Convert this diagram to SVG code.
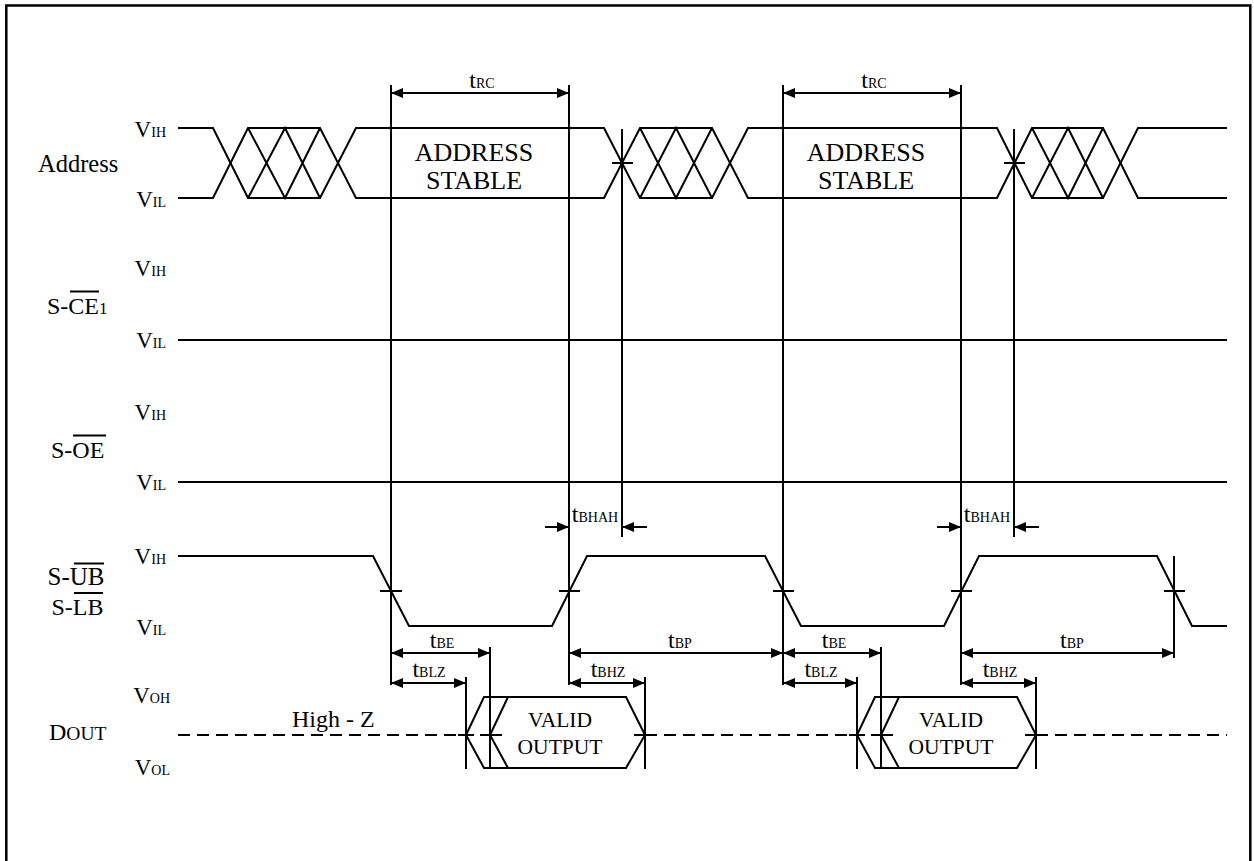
<svg xmlns="http://www.w3.org/2000/svg" width="1254" height="861" viewBox="0 0 1254 861" font-family="'Liberation Serif', Tinos, 'Times New Roman', 'DejaVu Serif', serif">
<style>
.sig{fill:none;stroke:#000;stroke-width:2;stroke-linejoin:miter}
.dash{fill:none;stroke:#000;stroke-width:2;stroke-dasharray:12 7}
.dim{fill:none;stroke:#000;stroke-width:2}
.arr{fill:none;stroke:#000;stroke-width:2;marker-start:url(#ah);marker-end:url(#ah)}
.arr1{fill:none;stroke:#000;stroke-width:2;marker-end:url(#ah)}
text{font-family:'Liberation Serif', Tinos, 'Times New Roman', 'DejaVu Serif', serif;fill:#000}
.big{font-size:24px}
.sub{font-size:14px}
.mid{text-anchor:middle}
.end{text-anchor:end}
.box{font-size:26px}
.vo{font-size:21.5px}
</style>
<defs>
<marker id="ah" markerUnits="userSpaceOnUse" markerWidth="12" markerHeight="10" viewBox="0 0 12 10" refX="12" refY="5" orient="auto-start-reverse">
<path d="M0,0 L12,5 L0,10 Z" fill="#000"/>
</marker>
</defs>
<rect x="6.3" y="5.5" width="1244" height="900" fill="#fff" stroke="#000" stroke-width="2.5"/>

<g id="labels">
<text x="38" y="172" style="font-size:24.5px">Address</text>
<text x="166" y="136.7" class="end"><tspan style="font-size:23px">V</tspan><tspan class="sub">IH</tspan></text>
<text x="166" y="206.7" class="end"><tspan style="font-size:23px">V</tspan><tspan class="sub">IL</tspan></text>
<text x="47" y="314" class="big">S-CE<tspan style="font-size:17px">1</tspan></text>
<line x1="70" y1="291.5" x2="99" y2="291.5" class="dim"/>
<text x="166" y="276" class="end"><tspan style="font-size:23px">V</tspan><tspan class="sub">IH</tspan></text>
<text x="166" y="348" class="end"><tspan style="font-size:23px">V</tspan><tspan class="sub">IL</tspan></text>
<text x="51" y="458" class="big">S-OE</text>
<line x1="73" y1="435.5" x2="106" y2="435.5" class="dim"/>
<text x="166" y="420" class="end"><tspan style="font-size:23px">V</tspan><tspan class="sub">IH</tspan></text>
<text x="166" y="490" class="end"><tspan style="font-size:23px">V</tspan><tspan class="sub">IL</tspan></text>
<text x="47.5" y="585" style="font-size:25px">S-UB</text>
<line x1="74" y1="563.5" x2="104" y2="563.5" class="dim"/>
<text x="51.5" y="615" class="big">S-LB</text>
<line x1="74" y1="593" x2="103" y2="593" class="dim"/>
<text x="166" y="563.5" class="end"><tspan style="font-size:23px">V</tspan><tspan class="sub">IH</tspan></text>
<text x="166" y="635" class="end"><tspan style="font-size:23px">V</tspan><tspan class="sub">IL</tspan></text>
<text x="49" y="740"><tspan style="font-size:24px">D</tspan><tspan style="font-size:19.5px">OUT</tspan></text>
<text x="170" y="703" class="end"><tspan style="font-size:23px">V</tspan><tspan class="sub">OH</tspan></text>
<text x="170" y="775" class="end"><tspan style="font-size:23px">V</tspan><tspan class="sub">OL</tspan></text>
<text x="292" y="727" class="big">High - Z</text>
</g>

<g id="address">
<path class="sig" d="M178,128 H213 L248,198 H320 L356,128 H604 L640,198 H712 L748,128 H997 L1032,198 H1103 L1138,128 H1227"/>
<path class="sig" d="M178,198 H213 L248,128 H320 L356,198 H604 L640,128 H712 L748,198 H997 L1032,128 H1103 L1138,198 H1227"/>
<path class="sig" d="M248,128 L285,198 L320,128 M248,198 L285,128 L320,198 M640,128 L676,198 L712,128 M640,198 L676,128 L712,198 M1032,128 L1068,198 L1103,128 M1032,198 L1068,128 L1103,198"/>
<text x="474" y="160.5" class="mid box">ADDRESS</text>
<text x="474" y="188.5" class="mid box">STABLE</text>
<text x="866" y="160.5" class="mid box">ADDRESS</text>
<text x="866" y="188.5" class="mid box">STABLE</text>
</g>

<g id="ce1">
<path class="sig" d="M178,340 H1227"/>
</g>

<g id="oe">
<path class="sig" d="M178,482 H1227"/>
</g>

<g id="ub-lb">
<path class="sig" d="M178,556 H373 L409,626 H552 L587,556 H765 L801,626 H944 L979,556 H1157 L1192,626 H1227"/>
</g>

<g id="dout">
<path class="dash" d="M178,735 H466 M645,735 H857 M1036,735 H1227"/>
<path class="sig" d="M484,697 H626 L645,735 L626,768 H484 L466,735 Z M508,697 L490,735 L508,768"/>
<path class="sig" d="M875,697 H1017 L1036,735 L1017,768 H875 L857,735 Z M899,697 L881,735 L899,768"/>
<path class="sig" d="M458,735 H474 M480,735 H502 M634,735 H654 M849,735 H865 M871,735 H893 M1025,735 H1045"/>
<text x="560" y="727" class="mid vo">VALID</text>
<text x="560" y="754" class="mid vo">OUTPUT</text>
<text x="951" y="727" class="mid vo">VALID</text>
<text x="951" y="754" class="mid vo">OUTPUT</text>
</g>

<g id="connectors">
<path class="dim" d="M391,85 V685 M569,85 V685 M783,85 V685 M961,85 V685 M622,129 V537 M1014,129 V537 M1174,556 V658 M466,677 V769 M490,647 V769 M645,677 V769 M857,677 V769 M881,647 V769 M1036,677 V769"/>
<path class="dim" d="M612,163 H633 M1004,163 H1025 M380,591 H402 M559,591 H580 M773,591 H794 M951,591 H972 M1164,591 H1185"/>
<line class="arr" x1="391" y1="93" x2="569" y2="93"/>
<line class="arr" x1="783" y1="93" x2="961" y2="93"/>
<line class="arr1" x1="545" y1="527" x2="569" y2="527"/>
<line class="arr1" x1="647" y1="527" x2="622" y2="527"/>
<line class="arr1" x1="937" y1="527" x2="961" y2="527"/>
<line class="arr1" x1="1039" y1="527" x2="1014" y2="527"/>
<line class="arr" x1="391" y1="653" x2="490" y2="653"/>
<line class="arr" x1="391" y1="683" x2="466" y2="683"/>
<line class="arr" x1="569" y1="683" x2="645" y2="683"/>
<line class="arr" x1="569" y1="653" x2="783" y2="653"/>
<line class="arr" x1="783" y1="653" x2="881" y2="653"/>
<line class="arr" x1="783" y1="683" x2="857" y2="683"/>
<line class="arr" x1="961" y1="683" x2="1036" y2="683"/>
<line class="arr" x1="961" y1="653" x2="1174" y2="653"/>
<text x="482" y="88" class="mid"><tspan class="big">t</tspan><tspan class="sub">RC</tspan></text>
<text x="874" y="88" class="mid"><tspan class="big">t</tspan><tspan class="sub">RC</tspan></text>
<text x="595" y="522" class="mid"><tspan class="big">t</tspan><tspan class="sub">BHAH</tspan></text>
<text x="987" y="522" class="mid"><tspan class="big">t</tspan><tspan class="sub">BHAH</tspan></text>
<text x="442" y="648" class="mid"><tspan class="big">t</tspan><tspan class="sub">BE</tspan></text>
<text x="834" y="648" class="mid"><tspan class="big">t</tspan><tspan class="sub">BE</tspan></text>
<text x="429" y="677" class="mid"><tspan class="big">t</tspan><tspan class="sub">BLZ</tspan></text>
<text x="821" y="677" class="mid"><tspan class="big">t</tspan><tspan class="sub">BLZ</tspan></text>
<text x="608" y="677" class="mid"><tspan class="big">t</tspan><tspan class="sub">BHZ</tspan></text>
<text x="1000" y="677" class="mid"><tspan class="big">t</tspan><tspan class="sub">BHZ</tspan></text>
<text x="680" y="648" class="mid"><tspan class="big">t</tspan><tspan class="sub">BP</tspan></text>
<text x="1072" y="648" class="mid"><tspan class="big">t</tspan><tspan class="sub">BP</tspan></text>
</g>
</svg>
